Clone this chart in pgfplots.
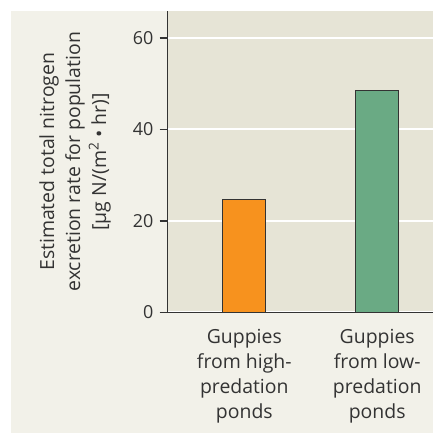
\documentclass[border=0pt]{standalone}
\usepackage{pgfplots}
\pgfplotsset{compat=1.18}
\usepackage{fontspec}
\setmainfont{Open Sans}
\definecolor{panelbg}{RGB}{242,241,233}
\definecolor{plotbg}{RGB}{230,228,214}
\definecolor{barorange}{RGB}{247,146,30}
\definecolor{bargreen}{RGB}{106,170,132}
\definecolor{txt}{RGB}{51,51,51}
\begin{document}
\begin{tikzpicture}[x=1bp,y=1bp]
\path[use as bounding box] (0,0) rectangle (433,433);
\fill[white] (0,0) rectangle (433,433);
\fill[panelbg] (11,0) rectangle (433,422);
\begin{axis}[
  at={(167.5bp,120.5bp)}, anchor=south west,
  scale only axis, width=265.5bp, height=301.5bp,
  xmin=-0.578, xmax=1.42, ymin=0, ymax=65.9,
  axis background/.style={fill=plotbg},
  axis x line=bottom, axis y line=left,
  axis line style={-, txt, line width=1.3bp},
  ytick={0,20,40,60},
  xtick={0,1},
  xticklabels={{Guppies\\from high-\\predation\\ponds},{Guppies\\from low-\\predation\\ponds}},
  x tick style={draw=none},
  y tick style={txt, line width=1.1bp},
  tick align=outside, major tick length=8bp,
  ymajorgrids, grid style={white, line width=2bp},
  /pgf/number format/assume math mode=true,
  yticklabel style={font=\fontsize{18}{20}\selectfont, text=txt, inner sep=0pt, xshift=-6bp},
  xticklabel style={font=\fontsize{19.5}{25.3}\selectfont, text=txt, align=center, anchor=north, yshift=-5bp},
  ylabel={Estimated total nitrogen\\excretion rate for population\\{[}µg N/(m\textsuperscript{2} • hr){]}},
  ylabel style={at={(axis description cs:-0.348,0.5)}, anchor=center, align=center, font=\fontsize{19.5}{26}\selectfont, text=txt},
  clip=false,
]
\addplot[ybar, bar width=43bp, fill=barorange, draw=txt, line width=1.1bp] coordinates {(0,24.7)};
\addplot[ybar, bar width=43bp, fill=bargreen, draw=txt, line width=1.1bp] coordinates {(1,48.6)};
\end{axis}
\end{tikzpicture}
\end{document}
